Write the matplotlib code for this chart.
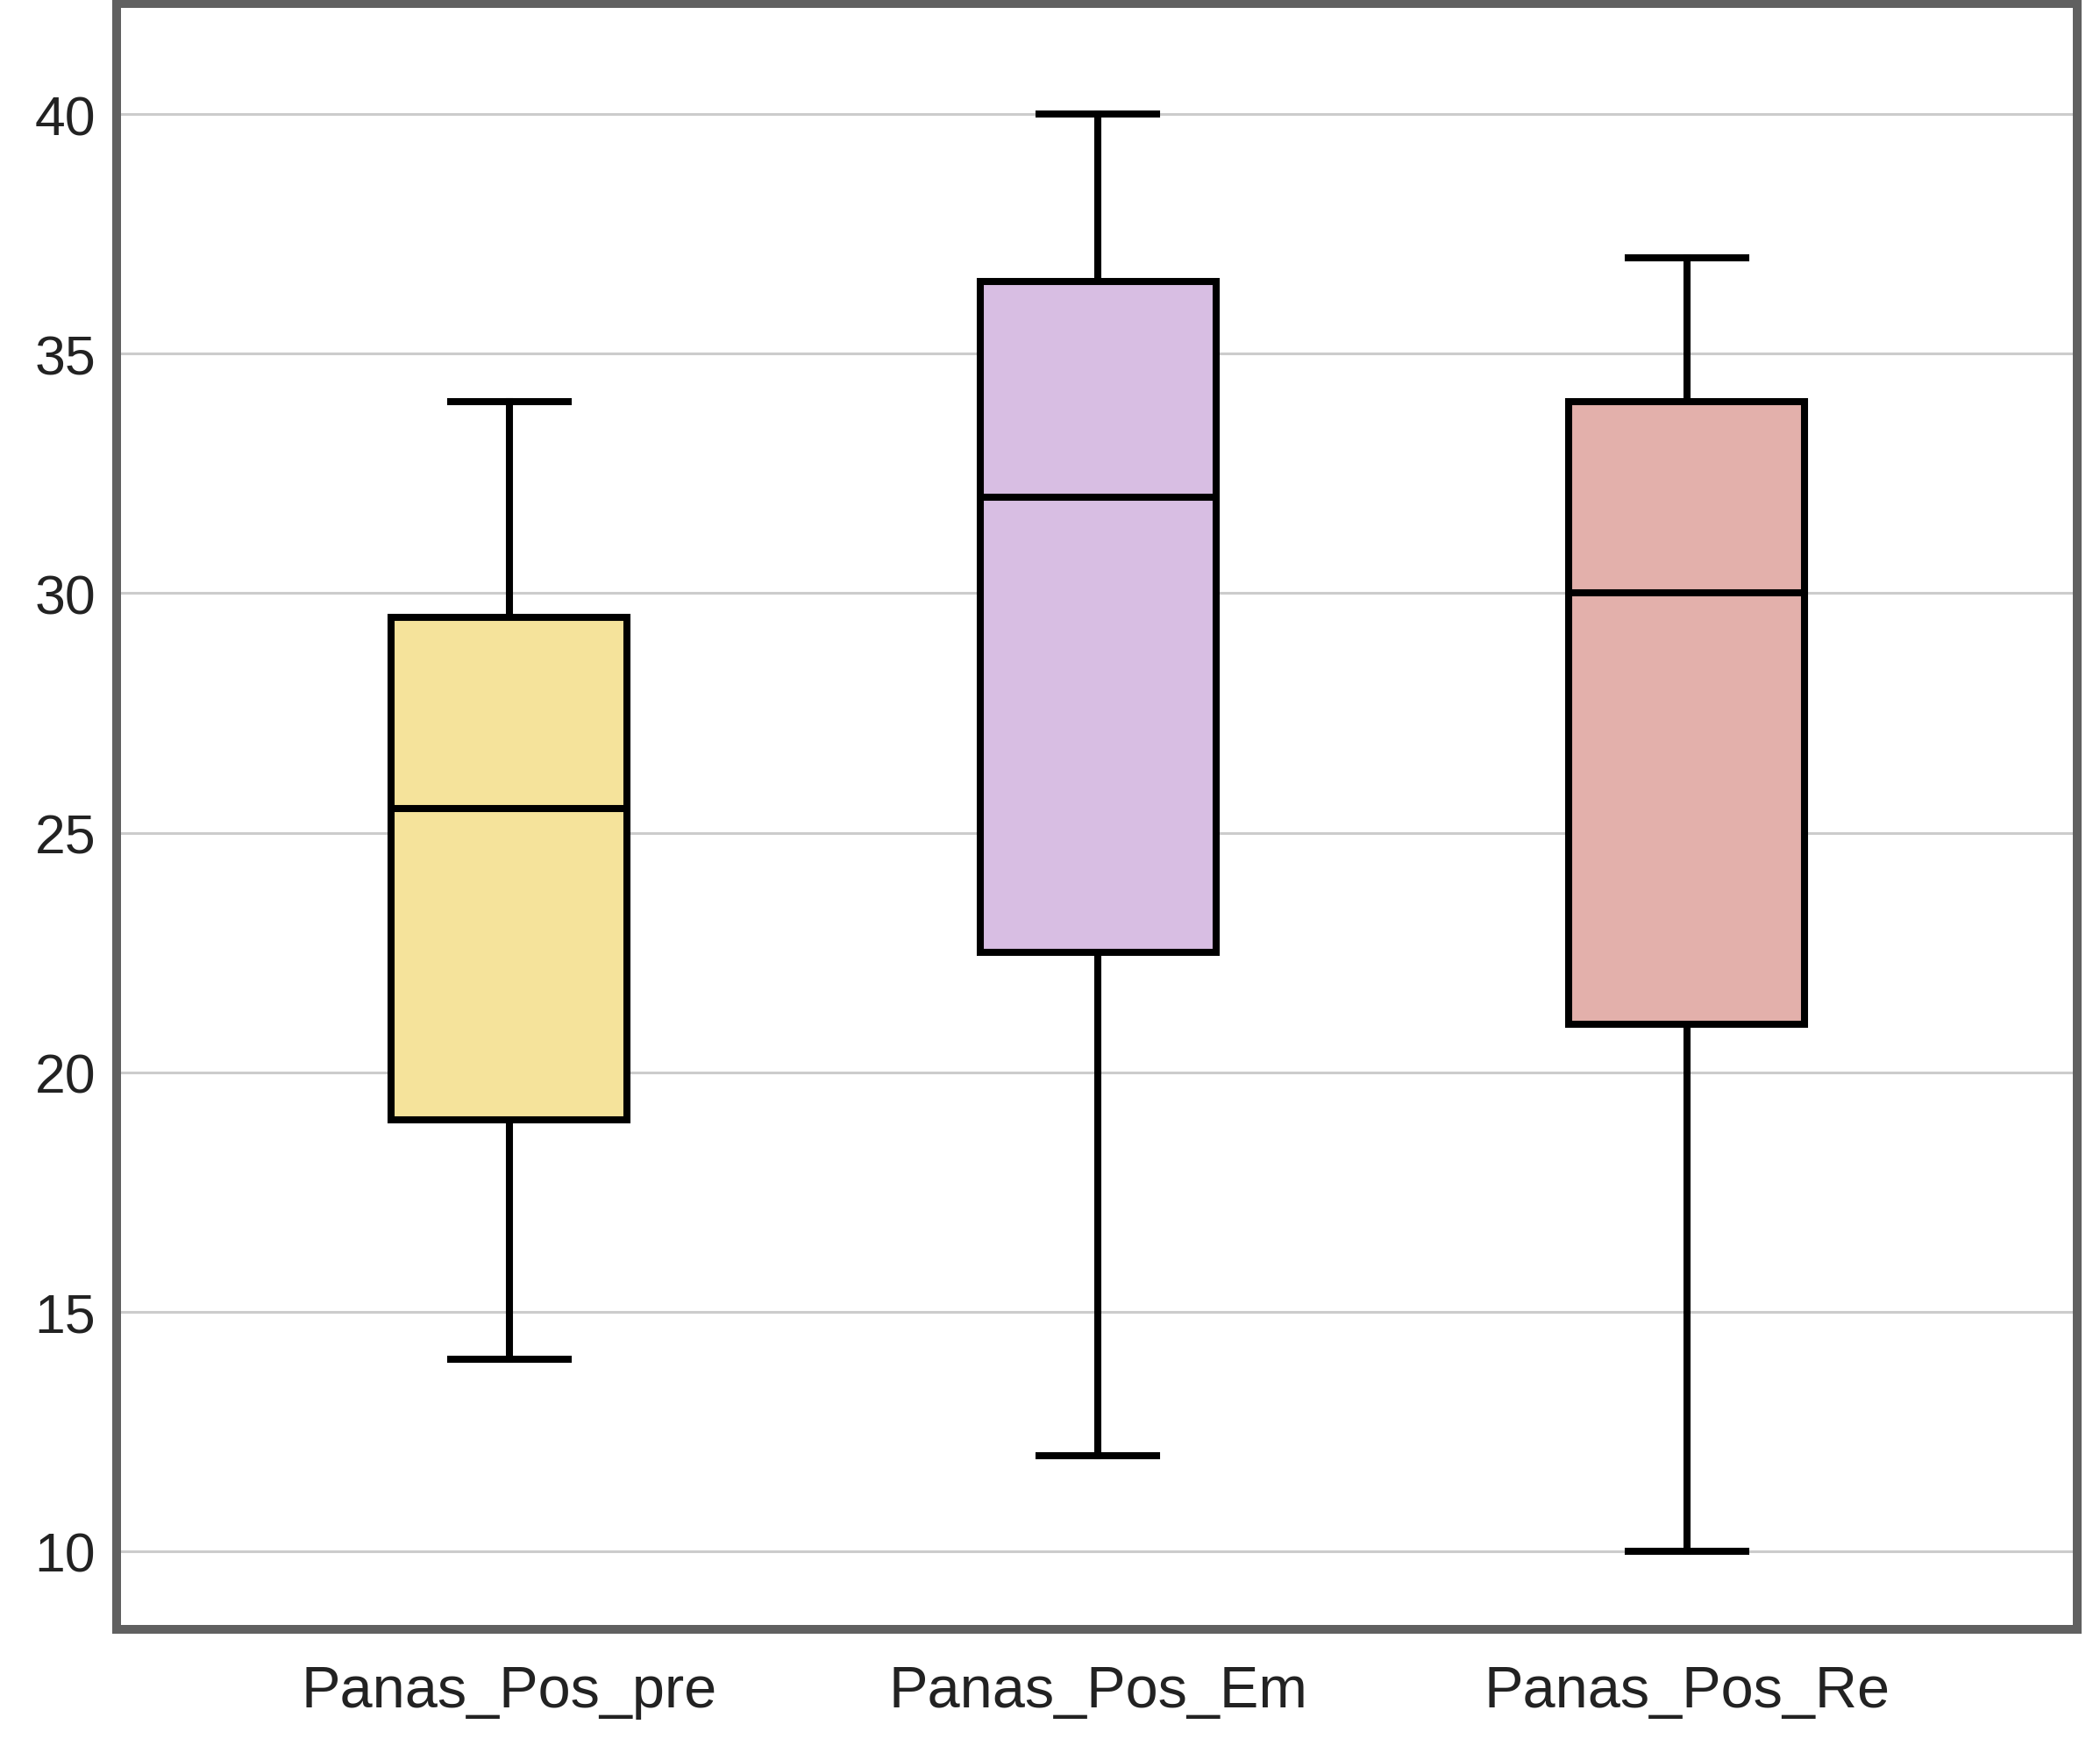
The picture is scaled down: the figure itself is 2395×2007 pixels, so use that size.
import matplotlib
matplotlib.use("Agg")
import matplotlib.pyplot as plt

# box summaries
labels = ["Panas_Pos_pre", "Panas_Pos_Em", "Panas_Pos_Re"]
whislo = [14, 12, 10]
q1 = [19, 22.5, 21]
med = [25.5, 32, 30]
q3 = [29.5, 36.5, 34]
whishi = [34, 40, 37]
colors = ["#F5E39B", "#D8BEE3", "#E3B0AB"]
yticks = [10, 15, 20, 25, 30, 35, 40]

plt.rcParams['font.family'] = ['Liberation Sans', 'DejaVu Sans']

fig = plt.figure(figsize=(23.95, 20.08), dpi=100)
ax = fig.add_axes([0.0555, 0.0742, 0.9891 - 0.0555, 0.9975 - 0.0742])

stats = []
for i in range(len(labels)):
    stats.append(dict(label=labels[i], whislo=whislo[i], q1=q1[i], med=med[i],
                      q3=q3[i], whishi=whishi[i], fliers=[]))

lw = 5.8
bp = ax.bxp(stats, positions=[1, 2, 3], widths=0.4, capwidths=0.2,
            patch_artist=True, showfliers=False,
            boxprops=dict(linewidth=lw, edgecolor="black"),
            medianprops=dict(linewidth=lw, color="black", solid_capstyle="butt"),
            whiskerprops=dict(linewidth=lw, color="black"),
            capprops=dict(linewidth=lw, color="black"))
for box, c in zip(bp['boxes'], colors):
    box.set_facecolor(c)
    box.set_zorder(3)
for m in bp['medians']:
    m.set_zorder(4)

ax.set_xlim(0.333, 3.663)
ax.set_ylim(8.37, 42.31)
ax.set_yticks(yticks)
ax.yaxis.grid(True, color="#cccccc", linewidth=2.2)
ax.set_axisbelow(True)

for s in ax.spines.values():
    s.set_linewidth(7.2)
    s.set_color("#606060")

ax.tick_params(axis='y', length=0, pad=17, labelsize=45, labelcolor="#222222")
ax.tick_params(axis='x', length=0, pad=29, labelsize=48, labelcolor="#222222")

fig.savefig("out.png", dpi=100)
